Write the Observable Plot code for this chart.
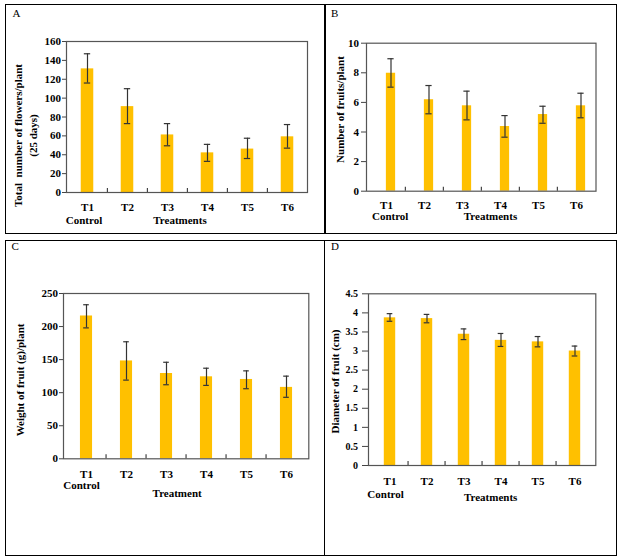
<!DOCTYPE html>
<html><head><meta charset="utf-8">
<script src="https://cdn.jsdelivr.net/npm/d3@7"></script>
<script src="https://cdn.jsdelivr.net/npm/@observablehq/plot@0.6"></script>
<style>
body{margin:0;background:#fff;}
#wrap{position:relative;width:623px;height:560px;background:#fff;overflow:hidden;font-family:"Liberation Serif","Times New Roman",serif;}
.box{position:absolute;border:1.5px solid #000;box-sizing:border-box;}
.vline{position:absolute;width:1.5px;background:#000;}
.letter{position:absolute;font-size:11px;line-height:11px;color:#000;}
.panel{position:absolute;}
.panel svg{overflow:visible;}
</style></head>
<body><div id="wrap">
<div class="box" style="left:5px;top:4px;width:612px;height:230px;"></div>
<div class="vline" style="left:324px;top:4px;height:230px;"></div>
<div class="box" style="left:5px;top:240px;width:612px;height:316px;"></div>
<div class="vline" style="left:323.5px;top:240px;height:316px;"></div>
<div class="letter" style="left:12.5px;top:7.8px;">A</div>
<div class="letter" style="left:331px;top:7.5px;">B</div>
<div class="letter" style="left:11.5px;top:240.8px;">C</div>
<div class="letter" style="left:331px;top:240.8px;">D</div>
<div class="panel" id="pA" style="left:5px;top:5px;"></div>
<div class="panel" id="pB" style="left:325px;top:5px;"></div>
<div class="panel" id="pC" style="left:5px;top:240px;"></div>
<div class="panel" id="pD" style="left:324px;top:240px;"></div>
</div>
<script>
const treatments = ["T1", "T2", "T3", "T4", "T5", "T6"];
const controlLabel = "Control";

const flowers   = [131, 91, 61, 42, 46, 59];
const flowersHi = [147, 110, 73, 51, 57.5, 72];
const flowersLo = [116, 73, 49.5, 33, 36, 47];
const flowerTicks = [0, 20, 40, 60, 80, 100, 120, 140, 160];
const flowerTitle = "Total\u00a0 number of flowers/plant\n(25 days)";

const fruits   = [7.97, 6.18, 5.77, 4.37, 5.18, 5.77];
const fruitsHi = [8.95, 7.14, 6.76, 5.11, 5.74, 6.62];
const fruitsLo = [7.03, 5.23, 4.82, 3.65, 4.59, 4.96];
const fruitTicks = [0, 2, 4, 6, 8, 10];
const fruitTitle = "Number of fruits/plant";

const weight   = [216, 148, 129, 124, 120, 108];
const weightHi = [233, 177, 146, 137, 133, 125];
const weightLo = [198, 119, 112, 111, 106, 93];
const weightTicks = [0, 50, 100, 150, 200, 250];
const weightTitle = "Weight of fruit (g)/plant";

const diameter   = [3.87, 3.85, 3.44, 3.28, 3.24, 3.00];
const diameterHi = [3.98, 3.96, 3.58, 3.46, 3.38, 3.13];
const diameterLo = [3.78, 3.74, 3.30, 3.12, 3.11, 2.87];
const diameterTicks = [0, 0.5, 1, 1.5, 2, 2.5, 3, 3.5, 4, 4.5];
const diameterTitle = "Diameter of fruit (cm)";

const xTitlePlural = "Treatments";
const xTitleSingle = "Treatment";

function panel(c) {
  const data = treatments.map((t, i) => ({t, v: c.values[i], hi: c.hi[i], lo: c.lo[i]}));
  const bw = (c.w - c.ml - c.mr) / treatments.length;
  const ph = c.h - c.mt - c.mb;
  const inset = (bw - c.barW) / 2;
  const capInset = (bw - 6.5) / 2;
  const err = {stroke: "#333", strokeWidth: 1.2, dx: c.dxBar};
  const svg = Plot.plot({
    width: c.w, height: c.h,
    marginLeft: c.ml, marginRight: c.mr, marginTop: c.mt, marginBottom: c.mb,
    style: {fontFamily: "'Liberation Serif', 'Times New Roman', serif", fontSize: "11px", fontWeight: "bold", color: "#000", background: "transparent"},
    x: {type: "band", domain: treatments, padding: 0, axis: null},
    y: {domain: c.domain, axis: null},
    marks: [
      Plot.barY(data, {x: "t", y: "v", fill: "#FFC000", insetLeft: inset, insetRight: inset, dx: c.dxBar}),
      Plot.ruleX(data, {x: "t", y1: "lo", y2: "hi", ...err}),
      Plot.tickY(data, {x: "t", y: "hi", insetLeft: capInset, insetRight: capInset, ...err}),
      Plot.tickY(data, {x: "t", y: "lo", insetLeft: capInset, insetRight: capInset, ...err}),
      Plot.frame({stroke: "#555", strokeWidth: 1.2}),
      Plot.ruleX(treatments.slice(1), {x: d => d, dx: -bw / 2, insetTop: ph - 4, stroke: "#444", strokeWidth: 1.2}),
      Plot.axisY({ticks: c.ticks, tickSize: c.ySize, tickPadding: c.yPad, tickFormat: d => String(d), label: null, stroke: "#444", fontSize: c.yFont}),
      Plot.axisX({tickSize: 0, tickPadding: c.xPad, label: null}),
      Plot.text([controlLabel], {x: () => treatments[0], frameAnchor: "bottom", lineAnchor: "bottom", dy: c.ctrlDy, dx: c.ctrlDx}),
      Plot.text([c.xTitle], {frameAnchor: "bottom", lineAnchor: "bottom", dy: c.xtDy, dx: c.xtDx}),
      Plot.text([c.yTitle], {frameAnchor: "left", rotate: -90, lineAnchor: "middle", textAnchor: "middle", lineHeight: 1.35, dx: c.ytDx, dy: c.ytDy})
    ]
  });
  document.getElementById(c.el).appendChild(svg);
}

panel({el: "pA", values: flowers, hi: flowersHi, lo: flowersLo, domain: [0, 160], ticks: flowerTicks,
  w: 320, h: 228, ml: 61, mr: 18, mt: 36, mb: 41, barW: 12.7, dxBar: 0, yFont: 11,
  ySize: 4, yPad: 1.5, xPad: 11, ctrlDx: -3.5, ctrlDy: 31, xTitle: xTitlePlural, xtDx: -7, xtDy: 31,
  yTitle: flowerTitle, ytDx: -42, ytDy: 18.5});

panel({el: "pB", values: fruits, hi: fruitsHi, lo: fruitsLo, domain: [0, 10], ticks: fruitTicks,
  w: 291, h: 228, ml: 41, mr: 20.5, mt: 37.7, mb: 42.3, barW: 9.5, dxBar: 4.5, yFont: 11,
  ySize: 5, yPad: 2.5, xPad: 9.5, ctrlDx: 3.7, ctrlDy: 28.3, xTitle: xTitlePlural, xtDx: 9.25, xtDy: 28.3,
  yTitle: fruitTitle, ytDx: -27, ytDy: -7.7});

panel({el: "pC", values: weight, hi: weightHi, lo: weightLo, domain: [0, 250], ticks: weightTicks,
  w: 319, h: 315, ml: 58, mr: 15.7, mt: 53, mb: 96.7, barW: 13, dxBar: 0, yFont: 11,
  ySize: 4, yPad: 1.5, xPad: 11, ctrlDx: -5, ctrlDy: 30, xTitle: xTitleSingle, xtDx: -9, xtDy: 38,
  yTitle: weightTitle, ytDx: -44, ytDy: 3.8});

panel({el: "pD", values: diameter, hi: diameterHi, lo: diameterLo, domain: [0, 4.5], ticks: diameterTicks,
  w: 292, h: 315, ml: 44, mr: 20.7, mt: 53.3, mb: 90, barW: 12.3, dxBar: 0, yFont: 10,
  ySize: 6, yPad: 4.5, xPad: 11.5, ctrlDx: -4.4, ctrlDy: 32, xTitle: xTitlePlural, xtDx: 8.5, xtDy: 35,
  yTitle: diameterTitle, ytDx: -34, ytDy: 1.8});
</script>
</body></html>
